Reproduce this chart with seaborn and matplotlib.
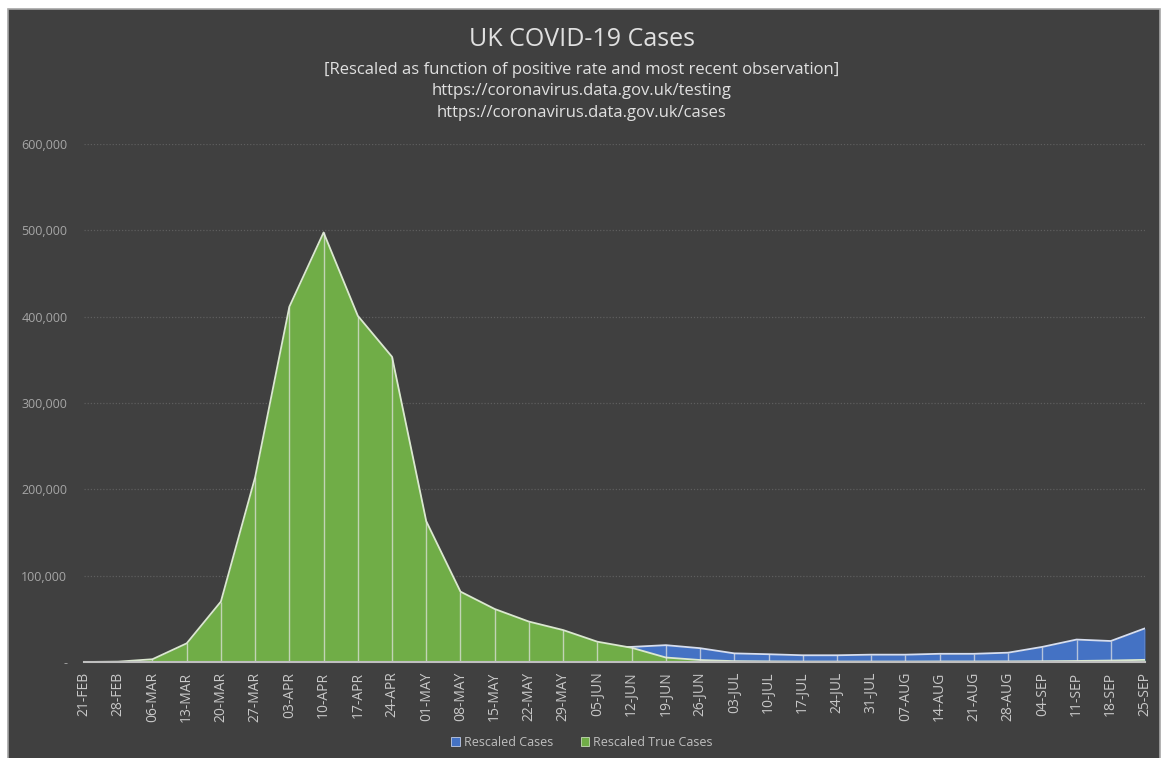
import numpy as np
import pandas as pd
import matplotlib
matplotlib.use("Agg")
import matplotlib.pyplot as plt
import seaborn as sns
from matplotlib.patches import Rectangle, Patch
from matplotlib.ticker import FuncFormatter

# ---------------- data ----------------
weeks = ['21-FEB', '28-FEB', '06-MAR', '13-MAR', '20-MAR', '27-MAR', '03-APR', '10-APR',
         '17-APR', '24-APR', '01-MAY', '08-MAY', '15-MAY', '22-MAY', '29-MAY', '05-JUN',
         '12-JUN', '19-JUN', '26-JUN', '03-JUL', '10-JUL', '17-JUL', '24-JUL', '31-JUL',
         '07-AUG', '14-AUG', '21-AUG', '28-AUG', '04-SEP', '11-SEP', '18-SEP', '25-SEP']

rescaled_cases = [0, 20, 300, 2000, 9000, 26000, 45000, 55000,
                  50000, 42000, 35000, 28000, 23000, 20000, 17500, 16500,
                  17500, 19500, 16000, 10000, 9000, 7800, 7800, 8500,
                  8500, 9500, 9500, 10800, 17500, 26000, 24300, 39000]

rescaled_true_cases = [0, 400, 3200, 21600, 70000, 214000, 411500, 497500,
                       401000, 353500, 163000, 81500, 61400, 46800, 37000, 23500,
                       16500, 5200, 2300, 1000, 700, 500, 500, 500,
                       500, 600, 600, 700, 900, 1200, 1700, 2500]

y_ticks = [0, 100000, 200000, 300000, 400000, 500000, 600000]

title = "UK COVID-19 Cases"
subtitles = ["[Rescaled as function of positive rate and most recent observation]",
             "https://coronavirus.data.gov.uk/testing",
             "https://coronavirus.data.gov.uk/cases"]
series_names = ["Rescaled Cases", "Rescaled True Cases"]

# ---------------- style ----------------
sns.set_theme(style="dark")
plt.rcParams['font.family'] = ['Open Sans', 'DejaVu Sans']

BG = '#404040'
BLUE = '#4472C4'
GREEN = '#70AD47'

W, H = 1164, 758
fig = plt.figure(figsize=(W / 100, H / 100), dpi=100, facecolor='white')

# dark chart panel with grey border
fig.patches.append(Rectangle((7.5 / W, -0.02), (1159.5 - 7.5) / W, (H - 8.5) / H + 0.02,
                             transform=fig.transFigure, facecolor=BG,
                             edgecolor='#a6a6a6', linewidth=1.2, zorder=-10))

ax = fig.add_axes([84 / W, 96 / H, (1145 - 84) / W, (662 - 144) / H], zorder=5)
ax.set_facecolor('none')
ax.patch.set_alpha(0)

df = pd.DataFrame({'week': weeks, 'x': np.arange(len(weeks)),
                   'cases': rescaled_cases, 'true': rescaled_true_cases})

# areas
ax.fill_between(df['x'], 0, df['cases'], color=BLUE, lw=0, zorder=2)
sns.lineplot(data=df, x='x', y='cases', ax=ax, color='#d6def0', lw=1.3, zorder=3)
ax.fill_between(df['x'], 0, df['true'], color=GREEN, lw=0, zorder=4)
sns.lineplot(data=df, x='x', y='true', ax=ax, color='#dbe8d0', lw=1.3, zorder=5)
# drop lines
ax.vlines(df['x'], 0, np.maximum(df['cases'], df['true']), color='#e6e6e6',
          alpha=0.7, lw=1.0, zorder=6)

ax.set_xlim(0, len(weeks) - 1)
ax.set_ylim(0, 600000)
ax.set_xlabel('')
ax.set_ylabel('')

ax.set_xticks(df['x'])
ax.set_xticklabels(weeks, rotation=90)
ax.set_yticks(y_ticks)
ax.yaxis.set_major_formatter(FuncFormatter(lambda v, p: '-' if v == 0 else f'{v:,.0f}'))
ax.tick_params(axis='y', length=0, pad=12, labelsize=9, labelcolor='#a6a6a6')
ax.tick_params(axis='x', length=0, pad=7, labelsize=10, labelcolor='#c8c8c8')

ax.grid(False)
ax.yaxis.grid(True, linestyle=(0, (1, 1.5)), color='#5e5e5e', lw=0.9, zorder=1)
ax.set_axisbelow(True)
for s in ['top', 'right', 'left']:
    ax.spines[s].set_visible(False)
ax.spines['bottom'].set_color('#bfbfbf')
ax.spines['bottom'].set_linewidth(1.5)
ax.spines['bottom'].set_zorder(7)

# titles
fig.text(0.5, 1 - 40 / H, title, ha='center', va='center', fontsize=18,
         color='#e0e0e0')
for yy, s in zip([70, 91, 113], subtitles):
    fig.text(0.5, 1 - yy / H, s, ha='center', va='center', fontsize=12,
             color='#e0e0e0')

# legend
handles = [Patch(facecolor=BLUE, edgecolor='#c0cbe6', lw=0.6),
           Patch(facecolor=GREEN, edgecolor='#c5dcb5', lw=0.6)]
fig.legend(handles, series_names, loc='center', bbox_to_anchor=(0.5, 1 - 742 / H),
           ncol=2, frameon=False, handlelength=0.7, handleheight=0.7,
           handletextpad=0.3, columnspacing=2.2, fontsize=9, labelcolor='#bfbfbf')

fig.savefig('out.png', dpi=100, facecolor='white')
